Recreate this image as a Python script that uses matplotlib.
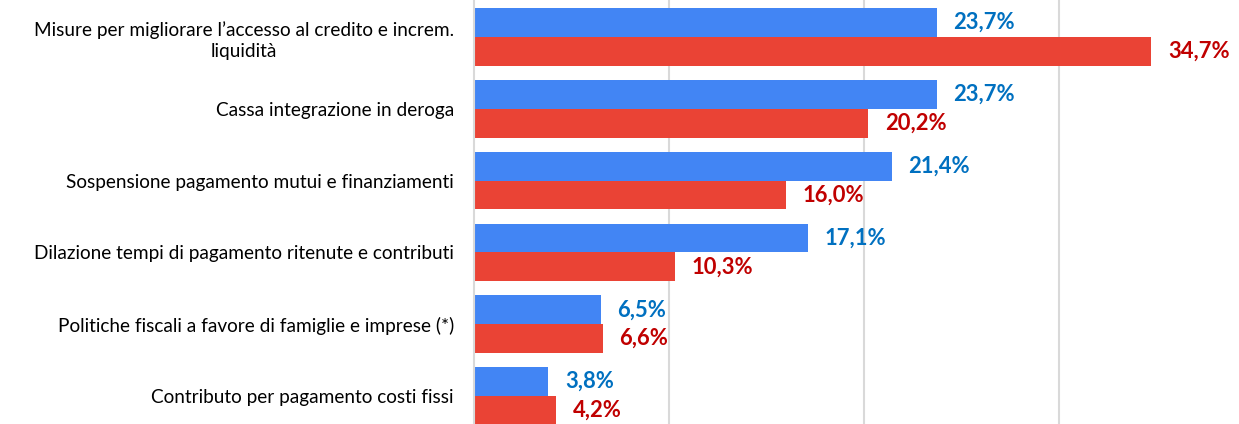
import matplotlib
matplotlib.use("Agg")
import matplotlib.pyplot as plt
import numpy as np

# -------------------- Data --------------------
categories = [
    "Misure per migliorare l\u2019accesso al credito e increm.\nliquidità",
    "Cassa integrazione in deroga",
    "Sospensione pagamento mutui e finanziamenti",
    "Dilazione tempi di pagamento ritenute e contributi",
    "Politiche fiscali a favore di famiglie e imprese (*)",
    "Contributo per pagamento costi fissi",
]
serie_blu = [23.7, 23.7, 21.4, 17.1, 6.5, 3.8]
serie_rossa = [34.7, 20.2, 16.0, 10.3, 6.6, 4.2]

BLUE, RED = "#4285F4", "#EA4335"
BLUE_TXT, RED_TXT = "#0070C0", "#C00000"

plt.rcParams["font.family"] = ["Lato", "DejaVu Sans"]

fig = plt.figure(figsize=(12.39, 4.24), dpi=100)
ax = fig.add_axes([474 / 1239, 0.0, 1 - 474 / 1239, 1.0])

y = np.arange(len(categories))
h = 0.4
ax.barh(y - h / 2, serie_blu, height=h, color=BLUE, zorder=2)
ax.barh(y + h / 2, serie_rossa, height=h, color=RED, zorder=2)

def fmt(v):
    return f"{v:.1f}%".replace(".", ",")

for yi, v in zip(y, serie_blu):
    ax.annotate(fmt(v), (v, yi - h / 2), xytext=(12, 0), textcoords="offset points",
                va="center", ha="left", color=BLUE_TXT, fontsize=15.8, fontweight="bold")
for yi, v in zip(y, serie_rossa):
    ax.annotate(fmt(v), (v, yi + h / 2), xytext=(12, 0), textcoords="offset points",
                va="center", ha="left", color=RED_TXT, fontsize=15.8, fontweight="bold")

ax.set_xlim(0, 39.2)
ax.set_ylim(5.39, -0.515)
ax.set_xticks([10, 20, 30])
ax.xaxis.grid(True, color="#D9D9D9", linewidth=1.5, zorder=0)
ax.tick_params(axis="x", bottom=False, labelbottom=False)
ax.tick_params(axis="y", left=False, pad=11)
ax.set_yticks(y)
ax.set_yticklabels(categories, fontsize=13.7, color="#000000")
for t in ax.get_yticklabels():
    t.set_multialignment("center")
    t.set_linespacing(1.3)

for s in ["top", "right", "bottom"]:
    ax.spines[s].set_visible(False)
ax.spines["left"].set_color("#D9D9D9")
ax.spines["left"].set_linewidth(1.5)

fig.savefig("out.png", dpi=100)
